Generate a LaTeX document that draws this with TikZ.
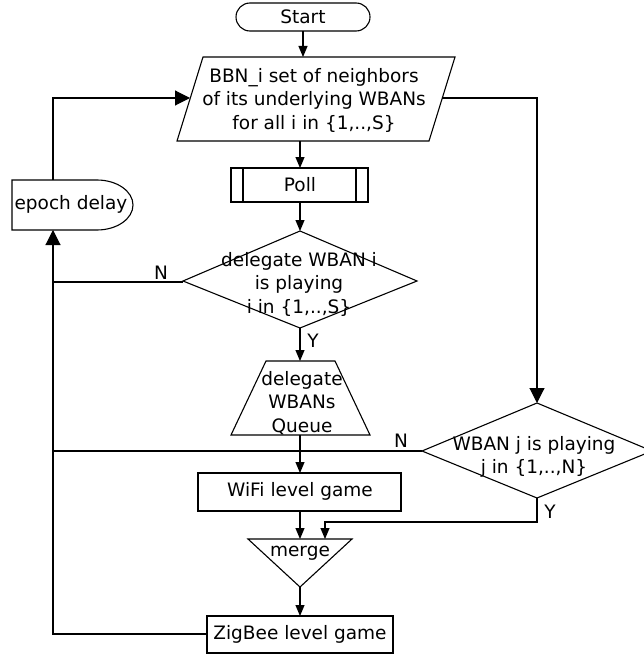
\documentclass[tikz,border=0pt]{standalone}
\usepackage{fontspec}
\setmainfont{DejaVu Sans}
\usetikzlibrary{arrows.meta}
\begin{document}
\begin{tikzpicture}[x=1pt,y=-1pt,line width=1.1pt,
  txt/.style={inner sep=0pt,align=center,font=\fontsize{18.5}{23.5}\selectfont},
  lbl/.style={inner sep=0pt,font=\fontsize{18.5}{22}\selectfont},
  arr/.style={-{Triangle[length=11pt,width=9pt]}},
  bigarr/.style={-{Triangle[length=15pt,width=15pt]}}]
\useasboundingbox (0,0) rectangle (643,658);
% Start
\draw[rounded corners=14pt] (236,3) rectangle (370,31);
\node[txt] (start) at (303,17) {Start};
\coordinate (startB) at (303,31);
% BBN parallelogram
\draw (203,57) -- (455,57) -- (429,141) -- (177,141) -- cycle;
\node[txt] (bbn) at (314,100) {BBN\_i set of neighbors\\of its underlying WBANs\\for all i in \{1,..,S\}};
\coordinate (bbnT) at (303,57);
\coordinate (bbnB) at (300,141);
\coordinate (bbnL) at (190,98);
\coordinate (bbnR) at (442,98);
% Poll
\draw (231,168) rectangle (368,202);
\draw (243,168) -- (243,202) (356,168) -- (356,202);
\node[txt] (poll) at (300,185) {Poll};
\coordinate (pollT) at (300,168);
\coordinate (pollB) at (300,202);
% epoch delay
\draw (12,180) -- (97,180) arc[start angle=90,end angle=-90,x radius=36,y radius=-25] -- (12,230) -- cycle;
\node[txt] (epoch) at (71,204) {epoch delay};
\coordinate (epochT) at (53,180);
\coordinate (epochB) at (53,230);
% diamond 1
\draw (300,231) -- (417,281) -- (300,328) -- (183,281) -- cycle;
\node[txt] (d1) at (299,284) {delegate WBAN i\\is playing\\i in \{1,..,S\}};
\coordinate (d1T) at (300,231);
\coordinate (d1B) at (300,328);
\coordinate (d1L) at (183,282);
% trapezoid queue
\draw (266,361) -- (335,361) -- (370,435) -- (231,435) -- cycle;
\node[txt] (queue) at (302,403) {delegate\\WBANs\\Queue};
\coordinate (trapT) at (300,361);
\coordinate (trapB) at (300,435);
% diamond 2
\draw (537,403) -- (652,451) -- (537,498) -- (422,451) -- cycle;
\node[txt] (d2) at (534,457) {WBAN j is playing\\j in \{1,..,N\}};
\coordinate (d2T) at (537,403);
\coordinate (d2B) at (537,498);
\coordinate (d2L) at (422,451);
% WiFi
\draw (198,473) rectangle (401,511);
\node[txt] (wifi) at (300,491) {WiFi level game};
\coordinate (wifiT) at (300,473);
\coordinate (wifiB) at (300,511);
% merge
\draw (248,539) -- (352,539) -- (300,587) -- cycle;
\node[txt] (merge) at (300,553) {merge};
\coordinate (mergeT) at (300,539);
\coordinate (mergeIn) at (325,539);
\coordinate (mergeB) at (300,587);
% ZigBee
\draw (207,616) rectangle (393,653);
\node[txt] (zig) at (300,634) {ZigBee level game};
\coordinate (zigT) at (300,616);
\coordinate (zigL) at (207,634);
\coordinate (leftN) at (53,282);
\coordinate (leftN2) at (53,451);
% connectors
\draw[arr] (startB) -- (bbnT);
\draw[arr] (bbnB) -- (pollT);
\draw[arr] (pollB) -- (d1T);
\draw[arr] (d1B) -- (trapT);
\draw[arr] (trapB) -- (wifiT);
\draw[arr] (wifiB) -- (mergeT);
\draw[arr] (mergeB) -- (zigT);
\draw[bigarr] (zigL) -| (epochB);
\draw (d1L) -- (leftN);
\draw (d2L) -- (leftN2);
\draw[bigarr] (epochT) |- (bbnL);
\draw[bigarr] (bbnR) -| (d2T);
\draw[arr] (d2B) -- ++(0,24) -| (mergeIn);
% labels
\node[lbl] (n1) at (161,273) {N};
\node[lbl] (n2) at (401,441) {N};
\node[lbl] (y1) at (313,341) {Y};
\node[lbl] (y2) at (550,512) {Y};
\end{tikzpicture}
\end{document}
